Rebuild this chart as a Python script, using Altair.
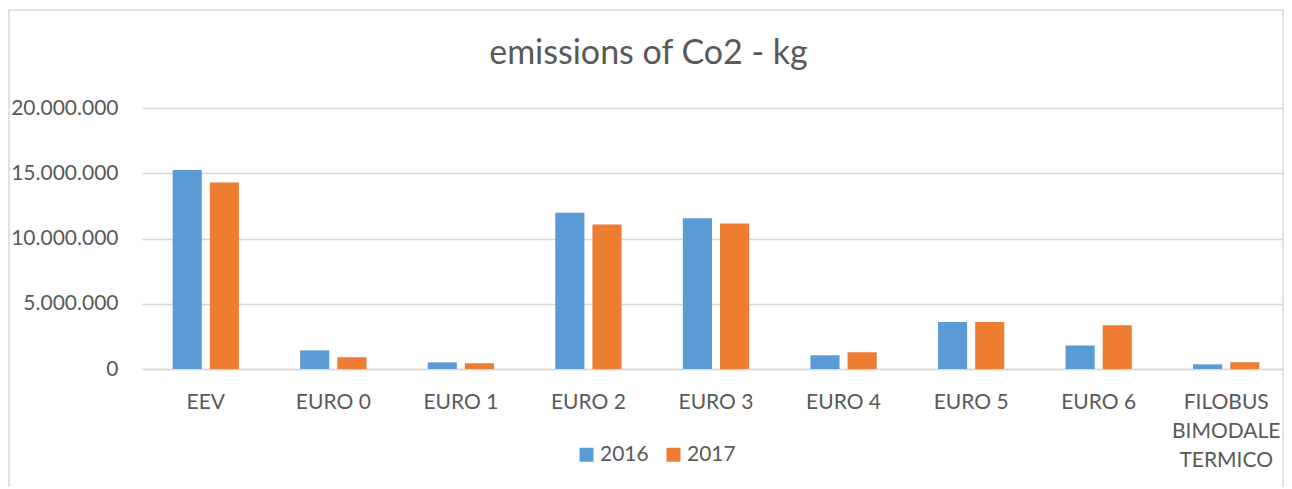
import altair as alt
import pandas as pd

categories = ["EEV", "EURO 0", "EURO 1", "EURO 2", "EURO 3", "EURO 4", "EURO 5", "EURO 6",
              "FILOBUS BIMODALE TERMICO"]
years = ["2016", "2017"]
values_2016 = [15250000, 1430000, 510000, 11980000, 11550000, 1050000, 3600000, 1800000, 360000]
values_2017 = [14300000, 900000, 440000, 11080000, 11140000, 1280000, 3600000, 3350000, 520000]
y_ticks = [0, 5000000, 10000000, 15000000, 20000000]
title_text = "emissions of Co2 - kg"
colors = ["#5B9BD5", "#ED7D31"]

rows = []
for c, a, b in zip(categories, values_2016, values_2017):
    rows.append({"category": c, "year": years[0], "value": a})
    rows.append({"category": c, "year": years[1], "value": b})
df = pd.DataFrame(rows)

FONT = "Lato"
TXT = "#595959"
GRID = "#D9D9D9"

bars = alt.Chart(df).mark_bar().encode(
    x=alt.X("category:N", sort=categories,
            scale=alt.Scale(paddingInner=0.48, paddingOuter=0.24, range=[0, 1148]),
            axis=alt.Axis(title=None, labelAngle=0, ticks=False, grid=False, domain=True,
                          domainColor=GRID, domainWidth=1.5, labelPadding=22, labelFont=FONT,
                          labelFontSize=21, labelColor=TXT, labelLimit=300, labelLineHeight=29,
                          labelExpr="datum.value == 'FILOBUS BIMODALE TERMICO' ? split(datum.value, ' ') : datum.value")),
    xOffset=alt.XOffset("year:N", sort=years, scale=alt.Scale(paddingInner=0.216, paddingOuter=0)),
    y=alt.Y("value:Q", scale=alt.Scale(domain=[0, 20000000], nice=False),
            axis=alt.Axis(title=None, values=y_ticks, ticks=False, domain=False, grid=True,
                          gridColor=GRID, gridWidth=1.5, labelPadding=24, labelFont=FONT,
                          labelFontSize=21, labelColor=TXT,
                          labelExpr="replace(format(datum.value, ','), regexp(',', 'g'), '.')")),
    color=alt.Color("year:N", scale=alt.Scale(domain=years, range=colors),
                    legend=alt.Legend(title=None, orient="none", legendX=434, legendY=336,
                                      direction="horizontal", symbolType="square", symbolSize=196,
                                      symbolStrokeWidth=0, labelFont=FONT, labelFontSize=21,
                                      labelColor=TXT, labelOffset=3, columnPadding=14, padding=0)),
)

title = alt.Chart(pd.DataFrame({"t": [title_text]})).mark_text(
    font=FONT, fontSize=34, color=TXT, align="center", baseline="alphabetic"
).encode(text="t:N", x=alt.value(506.5), y=alt.value(-44))

border = alt.Chart(pd.DataFrame({"a": [0]})).mark_rect(
    fillOpacity=0, stroke=GRID, strokeWidth=1.5
).encode(x=alt.value(-133), x2=alt.value(1141), y=alt.value(-98), y2=alt.value(420))

chart = alt.layer(border, bars, title).properties(
    width=1142, height=261,
    autosize=alt.AutoSizeParams(type="none"),
    padding={"left": 134, "top": 100, "right": 0, "bottom": 118},
).configure_view(stroke=None)

chart.save("out.html", embed_options={"renderer": "svg", "actions": False})
